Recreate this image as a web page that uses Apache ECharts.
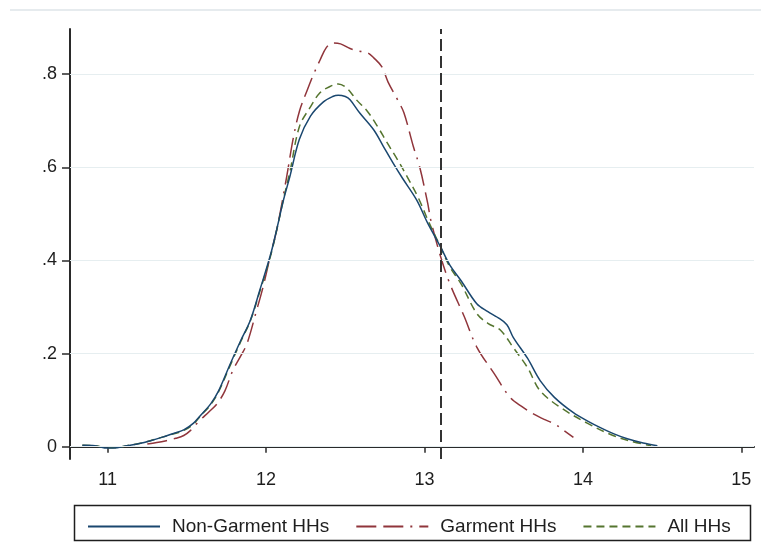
<!DOCTYPE html>
<html>
<head>
<meta charset="utf-8">
<script src="https://cdn.jsdelivr.net/npm/echarts@6/dist/echarts.min.js"></script>
<style>
html,body{margin:0;padding:0;background:#fff;}
#chart{width:761px;height:560px;}
</style>
</head>
<body>
<div id="chart"></div>
<script>
// ---- data ----
const seriesNames = ['Non-Garment HHs', 'Garment HHs', 'All HHs'];

const nonGarmentX = [10.84,10.92,11.0,11.06,11.12,11.2,11.27,11.34,11.41,11.48,11.54,11.58,11.65,11.7,11.77,11.84,11.9,11.96,12.03,12.07,12.11,12.15,12.21,12.28,12.36,12.42,12.455,12.5,12.53,12.59,12.68,12.74,12.8,12.86,12.95,13.02,13.1,13.16,13.23,13.33,13.4,13.46,13.52,13.56,13.65,13.73,13.82,13.94,14.03,14.11,14.2,14.28,14.38,14.47];
const nonGarmentY = [0.003,0.002,-0.003,-0.002,0.002,0.007,0.013,0.02,0.028,0.036,0.05,0.065,0.092,0.12,0.175,0.228,0.271,0.336,0.415,0.471,0.53,0.58,0.66,0.71,0.74,0.752,0.755,0.752,0.745,0.717,0.68,0.645,0.61,0.577,0.53,0.48,0.43,0.39,0.357,0.307,0.29,0.278,0.262,0.235,0.19,0.142,0.106,0.073,0.055,0.041,0.027,0.017,0.008,0.002];

const garmentX = [11.25,11.31,11.37,11.43,11.48,11.52,11.58,11.64,11.69,11.74,11.79,11.84,11.88,11.94,11.98,12.03,12.07,12.13,12.17,12.21,12.26,12.30,12.34,12.38,12.42,12.47,12.53,12.58,12.64,12.68,12.73,12.77,12.83,12.87,12.93,12.97,13.02,13.04,13.1,13.16,13.25,13.33,13.44,13.54,13.62,13.69,13.76,13.82,13.88,13.94];
const garmentY = [0.006,0.009,0.013,0.018,0.024,0.034,0.056,0.075,0.092,0.12,0.164,0.195,0.222,0.293,0.342,0.415,0.47,0.58,0.66,0.72,0.766,0.80,0.83,0.857,0.867,0.865,0.855,0.85,0.846,0.835,0.816,0.783,0.745,0.717,0.644,0.60,0.523,0.486,0.41,0.35,0.28,0.214,0.157,0.106,0.085,0.07,0.058,0.049,0.035,0.02];

const allX = [10.84,10.92,11.0,11.06,11.12,11.2,11.27,11.34,11.41,11.48,11.54,11.58,11.65,11.7,11.77,11.84,11.9,11.96,12.03,12.07,12.11,12.15,12.21,12.28,12.34,12.40,12.455,12.51,12.57,12.64,12.71,12.76,12.83,12.89,12.96,13.03,13.1,13.16,13.23,13.33,13.4,13.48,13.56,13.65,13.73,13.86,14.03,14.19,14.3,14.43];
const allY = [0.003,0.002,-0.002,-0.002,0.002,0.007,0.013,0.02,0.027,0.035,0.048,0.064,0.09,0.118,0.172,0.226,0.27,0.333,0.412,0.47,0.532,0.59,0.687,0.73,0.76,0.773,0.779,0.77,0.745,0.72,0.684,0.655,0.616,0.58,0.535,0.48,0.43,0.386,0.35,0.286,0.265,0.25,0.213,0.17,0.12,0.084,0.05,0.024,0.012,0.002];

const xTicks = [11, 12, 13, 14, 15];
const yTicks = [0, 0.2, 0.4, 0.6, 0.8];
const cutoffX = 13.1;

// ---- build ----
function pairs(xs, ys){ return xs.map((x,i)=>[x, ys[i]]); }
function fmtY(v){ if (Math.abs(v) < 1e-9) return '0'; return String(+v.toFixed(1)).replace(/^0\./,'.'); }

const FONT = '"Liberation Sans", Arial, sans-serif';
const chart = echarts.init(document.getElementById('chart'), null, {renderer:'canvas'});

const option = {
  backgroundColor: '#ffffff',
  animation: false,
  textStyle: {fontFamily: FONT},
  grid: {left: 70, right: 7, top: 29, bottom: 101, containLabel: false},
  xAxis: {
    type: 'value', min: 10.762, max: 15.08,
    axisLine: {show: true, lineStyle: {color: '#2a2a2a', width: 2}},
    axisTick: {show: true, length: 6, customValues: xTicks, lineStyle: {color: '#2a2a2a', width: 1.5}},
    axisLabel: {customValues: xTicks, margin: 12, fontSize: 18, color: '#1e1e1e', fontFamily: FONT, formatter: v => String(v)},
    splitLine: {show: false}
  },
  yAxis: {
    type: 'value', min: -0.0264, max: 0.897,
    axisLine: {show: true, onZero: false, lineStyle: {color: '#2a2a2a', width: 2}},
    axisTick: {show: true, length: 8, customValues: yTicks, lineStyle: {color: '#2a2a2a', width: 1.5}},
    axisLabel: {customValues: yTicks, margin: 13, fontSize: 18, color: '#1e1e1e', fontFamily: FONT, formatter: fmtY},
    splitLine: {show: false}
  },
  legend: {
    left: 82, top: 512,
    itemWidth: 72, itemHeight: 20, itemGap: 26,
    itemStyle: {opacity: 0, borderWidth: 0},
    textStyle: {fontSize: 19, color: '#1e1e1e', fontFamily: FONT, padding: [0,0,0,7]},
    data: seriesNames
  },
  graphic: [
    {type: 'line', shape: {x1: 10, y1: 10, x2: 761, y2: 10}, style: {stroke: '#e6ebee', lineWidth: 2}, silent: true},
    {type: 'rect', shape: {x: 74.5, y: 505.5, width: 676, height: 35}, style: {fill: 'none', stroke: '#1e1e1e', lineWidth: 1.5}, silent: true}
  ],
  series: [
    {
      name: seriesNames[0], type: 'line', data: pairs(nonGarmentX, nonGarmentY),
      symbol: 'none', smooth: 0.35, z: 4,
      lineStyle: {color: '#1a476f', width: 1.5, type: 'solid'},
      itemStyle: {color: '#1a476f'},
      markLine: {
        silent: true, symbol: 'none', label: {show: false}, animation: false,
        lineStyle: {color: '#e6eef0', width: 1.2, type: 'solid'},
        data: yTicks.map(v => ({yAxis: v}))
      }
    },
    {
      name: seriesNames[1], type: 'line', data: pairs(garmentX, garmentY),
      symbol: 'none', smooth: 0.35, z: 3,
      lineStyle: {color: '#90353b', width: 1.5, type: [20, 7, 20, 7, 2, 7]},
      itemStyle: {color: '#90353b'},
      markLine: {
        silent: true, symbol: 'none', label: {show: false}, animation: false,
        lineStyle: {color: '#333333', width: 2, type: [12, 5]},
        data: [{xAxis: cutoffX}]
      }
    },
    {
      name: seriesNames[2], type: 'line', data: pairs(allX, allY),
      symbol: 'none', smooth: 0.35, z: 3,
      lineStyle: {color: '#55752f', width: 1.5, type: [8, 5]},
      itemStyle: {color: '#55752f'}
    }
  ]
};
chart.setOption(option);
</script>
</body>
</html>
